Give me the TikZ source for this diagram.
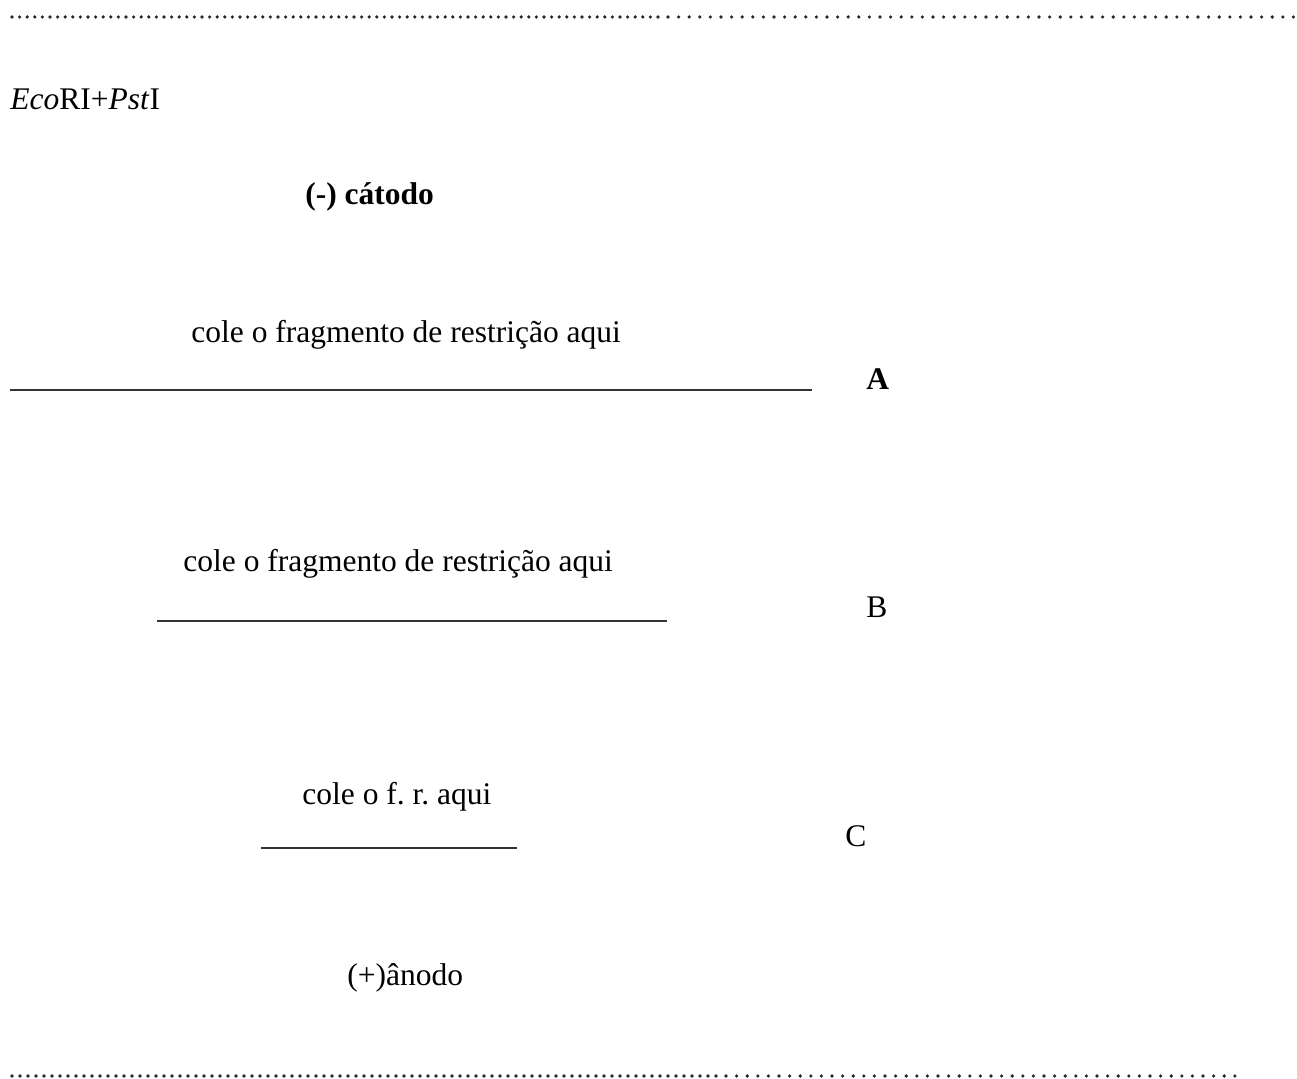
\documentclass[tikz,border=0pt]{standalone}
\usepackage{fontspec}
\setmainfont{Liberation Serif}
\frenchspacing
\begin{document}
\begin{tikzpicture}[x=0.5pt,y=-0.5pt,
  lbl/.style={anchor=base west,inner sep=0pt,font=\fontsize{15.75}{18}\selectfont},
  rule/.style={line width=0.8pt,draw=black!80},
  dot/.style={fill=black!85,draw=none}]
\useasboundingbox (0,0) rectangle (1297,1079);

% top dotted rule: full stops, then ellipsis dots
\foreach \i in {0,...,85} \fill[dot] (12+7.6*\i,17) circle (1.8);
\foreach \i in {0,...,59} \fill[dot] (668+10.6*\i,17) circle (1.8);

% bottom dotted rule
\foreach \i in {0,...,88} \fill[dot] (12+8*\i,1076) circle (1.8);
\foreach \i in {0,...,48} \fill[dot] (726+10.6*\i,1076) circle (1.8);

\node[lbl] (enz) at (10,110) {\textit{Eco}RI+\textit{Pst}I};
\node[lbl] (cat) at (305,205) {\textbf{(-) cátodo}};

\node[lbl] (ta) at (191,343) {cole o fragmento de restrição aqui};
\coordinate (a1) at (10,390);
\coordinate (a2) at (812,390);
\draw[rule] (a1) -- (a2);
\node[lbl] (la) at (866,390) {\textbf{A}};

\node[lbl] (tb) at (183,572) {cole o fragmento de restrição aqui};
\coordinate (b1) at (157,621);
\coordinate (b2) at (667,621);
\draw[rule] (b1) -- (b2);
\node[lbl] (lb) at (866,618) {B};

\node[lbl] (tc) at (302,805) {cole o f. r. aqui};
\coordinate (c1) at (261,848);
\coordinate (c2) at (517,848);
\draw[rule] (c1) -- (c2);
\node[lbl] (lc) at (845,847) {C};

\node[lbl] (ano) at (347,986) {(+)ânodo};
\end{tikzpicture}
\end{document}
